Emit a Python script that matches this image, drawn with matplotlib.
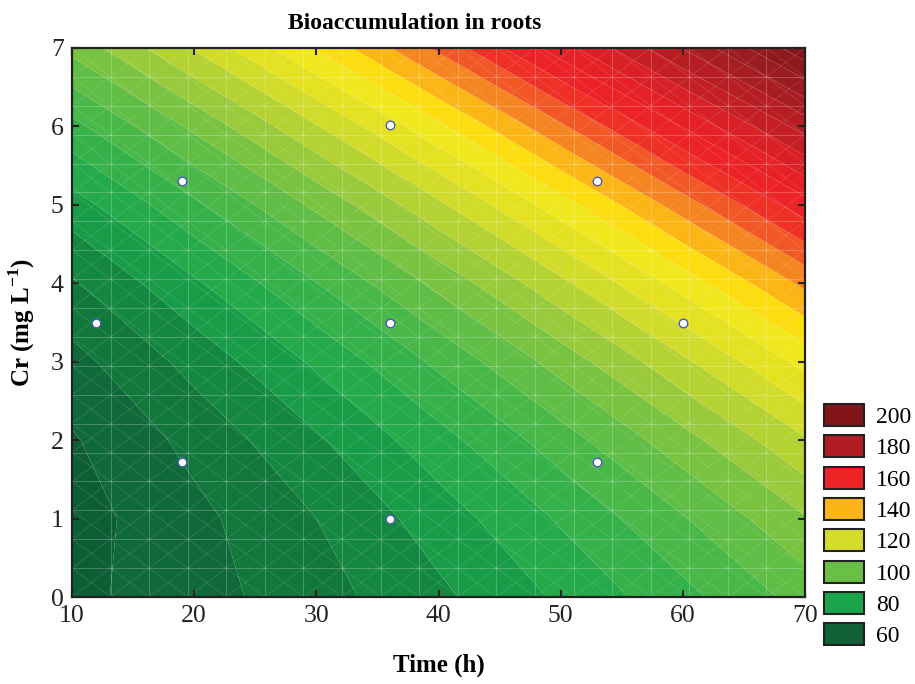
import numpy as np
import matplotlib
matplotlib.use("Agg")
import matplotlib.pyplot as plt
from matplotlib.colors import LinearSegmentedColormap, Normalize
from matplotlib.patches import Patch

# ---- data ----
time_h = [10, 20, 30, 40, 50, 60, 70]
cr_mgL = [0, 1, 2, 3, 4, 5, 6, 7]
# bioaccumulation values; rows = Cr, columns = Time
z_rows = [
    [58.7, 62.9, 68.0, 73.9, 80.8, 88.4, 97.0],     # Cr 0
    [57.9, 63.6, 70.0, 77.4, 85.6, 94.6, 104.6],    # Cr 1
    [59.5, 66.5, 74.3, 83.1, 92.7, 103.1, 114.5],   # Cr 2
    [63.3, 71.7, 80.9, 91.1, 102.1, 114.0, 126.7],  # Cr 3
    [69.4, 79.2, 89.9, 101.4, 113.8, 127.1, 141.2], # Cr 4
    [77.8, 89.0, 101.1, 114.0, 127.8, 142.5, 158.0],# Cr 5
    [88.5, 101.1, 114.6, 128.9, 144.1, 160.2, 177.1],# Cr 6
    [101.5, 115.5, 130.4, 146.1, 162.7, 180.2, 198.5],# Cr 7
]
design_time = [12, 19, 19, 36, 36, 36, 53, 53, 60]
design_cr = [3.5, 1.72, 5.3, 1.0, 3.5, 6.02, 1.72, 5.3, 3.5]
legend_values = [200, 180, 160, 140, 120, 100, 80, 60]
legend_colors = ['#811517', '#b01e23', '#ee2326', '#fbb517',
                 '#d3dc2b', '#6abf45', '#1aa54b', '#116136']

# ---- colours ----
anchors = [
    (50, '#0c5230'), (60, '#0f6236'), (70, '#117e3c'), (80, '#1ba64a'),
    (90, '#3db54a'), (100, '#6abf45'), (110, '#a6cd38'), (118, '#d2db29'),
    (124, '#e8e41e'), (130, '#f6e81d'), (134, '#fdd80a'), (138, '#fbb517'),
    (142, '#f68d20'), (146, '#f26a26'), (150, '#ef4326'), (155, '#ee2226'),
    (165, '#e42126'), (172, '#c81f26'), (180, '#b01e23'), (190, '#951a1f'),
    (200, '#80151a'), (210, '#6c1013'),
]
vmin, vmax = 50, 210
cmap = LinearSegmentedColormap.from_list(
    'bio', [((v - vmin) / (vmax - vmin), c) for v, c in anchors])
norm = Normalize(vmin, vmax)

plt.rcParams['font.family'] = ['Liberation Serif', 'DejaVu Serif']
plt.rcParams['mathtext.fontset'] = 'custom'
plt.rcParams['mathtext.rm'] = 'Liberation Serif'
plt.rcParams['mathtext.bf'] = 'Liberation Serif:bold'

fig = plt.figure(figsize=(9.15, 6.84), dpi=100)
ax = fig.add_axes([72 / 915, 1 - 597 / 684, 733 / 915, 549 / 684])

T, C = np.meshgrid(time_h, cr_mgL)
Z = np.array(z_rows)
levels = np.arange(50, 215, 5)
ax.contourf(T, C, Z, levels=levels, cmap=cmap, norm=norm, antialiased=True)

# faint mesh like the original rendering
gx = np.linspace(10, 70, 20)
gy = np.linspace(0, 7, 20)
for x in gx:
    ax.axvline(x, color='white', alpha=0.22, lw=0.8)
for y in gy:
    ax.axhline(y, color='white', alpha=0.22, lw=0.8)
dx = gx[1] - gx[0]
dy = gy[1] - gy[0]
slope = dy / dx
for k in range(-40, 60):
    x0 = 10 + k * dx
    xs = np.array([x0 - 80, x0 + 80])
    ax.plot(xs, slope * (xs - x0), color='white', alpha=0.13, lw=0.6)
    ax.plot(xs, -slope * (xs - x0) + 7, color='white', alpha=0.13, lw=0.6)

ax.scatter(design_time, design_cr, s=38, facecolor='white',
           edgecolor='#4a5cb8', linewidth=1.0, zorder=5)

ax.set_xlim(10, 70)
ax.set_ylim(0, 7)
ax.set_xticks(range(10, 71, 10))
ax.set_yticks(range(0, 8))
ax.tick_params(direction='in', length=5, width=1.5, top=True, right=True,
               labelsize=18.5, colors='#222222', pad=6)
for sp in ax.spines.values():
    sp.set_linewidth(1.6)
    sp.set_color('#222222')

ax.set_title('Bioaccumulation in roots', fontsize=17, fontweight='bold',
             pad=14, x=0.468)
ax.set_xlabel('Time (h)', fontsize=18, fontweight='bold', labelpad=19)
ax.set_ylabel('Cr (mg L$^{\\mathbf{-1}}$)', fontsize=18, fontweight='bold', labelpad=10)

handles = [Patch(facecolor=c, edgecolor='#222222', linewidth=1.5) for c in legend_colors]
fig.legend(handles, [str(v) for v in legend_values], loc='upper left',
           bbox_to_anchor=(824 / 915, 1 - 404 / 684), frameon=False,
           fontsize=17, handlelength=1.7, handleheight=1.05,
           labelspacing=0.31, handletextpad=0.5, borderaxespad=0, borderpad=0)

fig.savefig('out.png', dpi=100)
